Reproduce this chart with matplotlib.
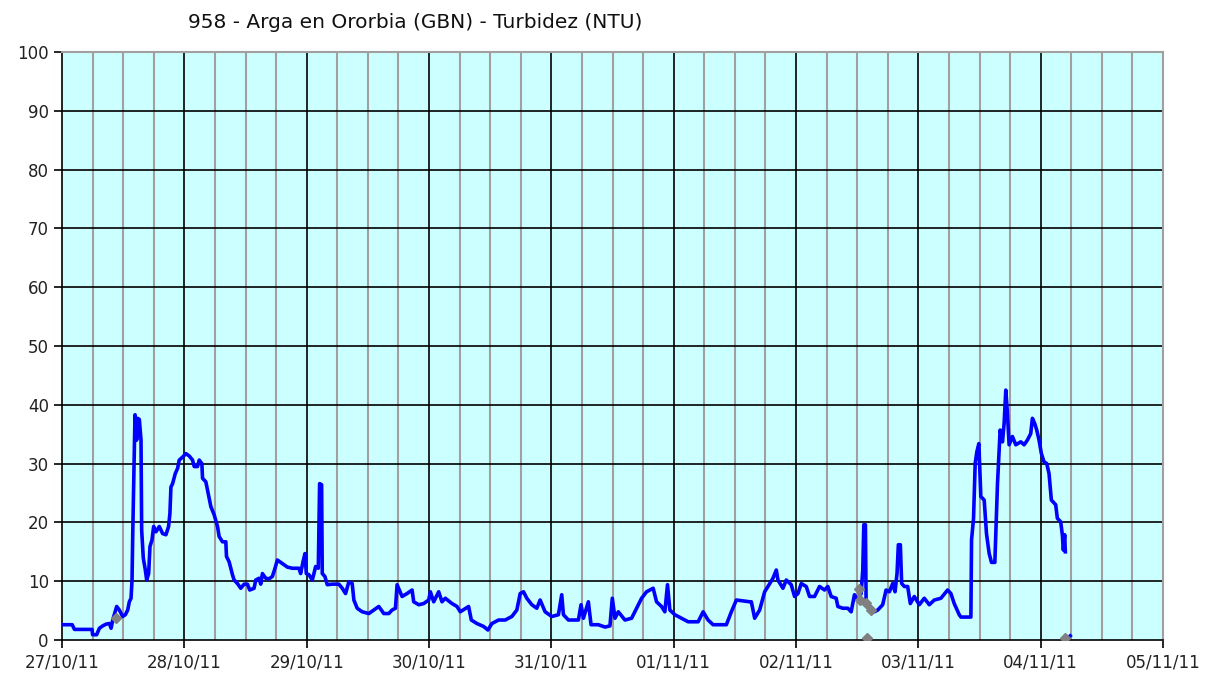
import numpy as np
import matplotlib
matplotlib.use("Agg")
from matplotlib import pyplot as plt

# horas desde 27/10/11 00:00 y turbidez (NTU)
horas = [
    0, 2.0, 2.45, 5.9, 6.0, 6.8, 7.34, 7.99, 8.65, 9.3,
    9.63, 9.95, 10.73, 11.25, 11.9, 12.43, 12.89, 13.21, 13.54, 13.74,
    13.87, 14.06, 14.32, 14.65, 14.85, 15.17, 15.5, 15.63, 15.95, 16.35,
    16.61, 17.0, 17.26, 17.65, 17.98, 18.43, 19.09, 19.74, 20.39, 20.91,
    21.17, 21.37, 21.7, 22.22, 22.68, 23.0, 23.65, 24.31, 24.96, 25.61,
    25.94, 26.59, 26.92, 27.44, 27.57, 28.22, 28.74, 29.2, 29.85, 30.51,
    30.83, 31.48, 32.14, 32.27, 32.79, 33.44, 33.77, 34.42, 35.07, 35.73,
    36.38, 36.83, 37.68, 38.01, 38.66, 38.99, 39.32, 39.97, 40.62, 41.27,
    41.79, 42.25, 42.9, 43.56, 44.21, 45.19, 46.49, 46.82, 47.28, 47.67,
    47.93, 48.45, 49.1, 49.43, 49.76, 50.28, 50.54, 50.93, 51.06, 51.58,
    52.04, 53.02, 54.32, 54.98, 55.63, 56.28, 56.93, 57.26, 57.91, 58.89,
    60.2, 61.17, 62.15, 63.13, 64.11, 64.76, 65.42, 65.74,
    66.72, 67.7, 68.68, 69.0, 69.99, 70.96, 71.94, 72.27, 72.92, 73.9,
    74.55, 75.2, 76.51, 77.49, 78.14, 79.77, 80.3, 81.4, 82.71, 83.56,
    84.34, 85.65, 86.95, 88.26, 89.23, 89.89, 90.54, 91.19, 92.17, 93.15,
    93.8, 94.78, 96.09, 97.39, 98.04, 98.37, 99.35, 101.31, 101.83, 102.29,
    103.26, 103.79, 105.22, 106.53, 107.5, 107.96, 108.49, 109.14, 110.44, 111.75,
    112.73, 113.71, 114.68, 115.98, 116.64, 117.62, 118.27, 118.79, 119.25, 120.23,
    121.54, 122.84, 124.8, 125.78, 126.75, 127.73, 130.34, 131.32, 132.3, 134.91,
    135.24, 135.89, 136.87, 137.85, 138.5, 139.48, 140.13,
    140.46, 141.44, 142.09, 143.07, 143.72, 144.38, 145.03, 146.01, 146.66, 147.64,
    148.62, 149.6, 150.25, 150.9, 151.88, 152.21, 153.18, 154.16, 154.82, 155.47,
    156.12, 156.77, 157.1, 157.3, 157.62, 157.75, 158.4, 159.38, 160.04, 161.01,
    161.67, 162.32, 162.97, 163.43, 163.82, 164.08, 164.47, 164.73, 165.26, 165.91,
    166.43, 167.21, 168.19, 169.17, 170.15, 171.13, 172.43, 173.74, 174.39, 175.04,
    176.02, 176.35, 178.31, 178.44, 178.83, 179.15, 179.48, 179.87, 180.26, 180.92,
    181.37, 181.9, 182.35, 183.01, 183.2, 183.53, 184.05, 184.51, 184.83, 185.16,
    185.48, 185.81, 186.46, 187.12, 188.1, 188.75, 189.4, 190.05, 190.38, 190.84,
    191.23, 191.68, 192.14, 192.66, 193.19, 193.64, 194.1, 194.95, 195.27, 195.93,
    196.25, 196.45, 196.71, 196.84,
    np.nan, 197.4, 197.8,
]
turbidez = [
    2.6, 2.6, 1.8, 1.8, 0.9, 0.9, 2.0, 2.4, 2.7, 2.8,
    2.0, 3.4, 5.7, 5.1, 4.0, 4.3, 5.1, 6.5, 7.1, 10.2,
    17.6, 26.0, 38.3, 34.0, 37.7, 37.5, 34.0, 18.7, 13.9, 11.9,
    10.2, 11.3, 15.9, 17.0, 19.3, 18.4, 19.3, 18.1, 17.9, 19.3,
    21.5, 26.0, 26.6, 28.3, 29.2, 30.6, 31.1, 31.7, 31.3, 30.6,
    29.5, 29.5, 30.6, 30.0, 27.5, 26.9, 24.7, 22.7, 21.3, 19.3,
    17.6, 16.7, 16.7, 14.2, 13.3, 11.1, 10.2, 9.6, 8.8, 9.5,
    9.5, 8.5, 8.8, 10.2, 10.5, 9.5, 11.3, 10.5, 10.4, 10.8,
    12.2, 13.6, 13.2, 12.8, 12.4, 12.2, 12.2, 11.3, 13.3, 14.7,
    11.3, 11.1, 10.2, 11.3, 12.5, 12.2, 26.6, 26.4, 11.3, 10.8,
    9.4, 9.5, 9.5, 8.8, 7.9, 9.9, 9.6, 6.8, 5.4, 4.8,
    4.5, 5.1, 5.7, 4.5, 4.5, 5.1, 5.4, 9.4,
    7.4, 7.9, 8.5, 6.5, 6.0, 6.2, 6.8, 8.2, 6.5, 8.2,
    6.5, 7.1, 6.2, 5.7, 4.8, 5.7, 3.4, 2.8, 2.3, 1.7,
    2.8, 3.4, 3.4, 4.0, 5.1, 7.9, 8.2, 7.1, 6.0, 5.4,
    6.8, 4.8, 4.0, 4.3, 7.7, 4.3, 3.4, 3.4, 6.0, 3.7,
    6.5, 2.6, 2.6, 2.2, 2.4, 7.1, 3.7, 4.8, 3.4, 3.7,
    5.4, 7.1, 8.2, 8.8, 6.5, 5.7, 4.8, 9.4, 5.1, 4.3,
    3.7, 3.1, 3.1, 4.8, 3.4, 2.6, 2.6, 4.8, 6.8, 6.5,
    6.5, 3.7, 5.1, 8.2, 9.1, 10.5, 11.9,
    10.2, 8.8, 10.2, 9.4, 7.4, 7.9, 9.6, 9.1, 7.4, 7.4,
    9.1, 8.5, 9.1, 7.4, 7.1, 5.7, 5.4, 5.4, 4.8, 7.7,
    6.8, 7.9, 11.9, 19.6, 19.6, 6.8, 5.7, 4.8, 5.1, 6.0,
    8.5, 8.2, 9.6, 8.2, 11.3, 16.2, 16.2, 9.6, 9.1, 9.1,
    6.2, 7.4, 6.0, 7.1, 6.0, 6.8, 7.1, 8.5, 7.9, 6.2,
    4.3, 3.9, 3.9, 17.0, 20.7, 30.0, 32.0, 33.4, 24.4, 23.8,
    18.1, 14.7, 13.2, 13.2, 18.1, 26.6, 35.7, 33.7, 36.8, 42.5,
    38.5, 33.2, 34.6, 33.2, 33.7, 33.2, 34.0, 35.1, 37.7, 36.8,
    35.7, 34.0, 31.7, 30.3, 30.0, 28.3, 23.8, 23.0, 20.7, 20.1,
    17.9, 15.3, 17.9, 15.0,
    np.nan, 0.4, 0.7,
]

# puntos grises (datos no validados)
horas_gris = [10.5, np.nan, 156.4, 156.5, 157.7, 158.7, np.nan, 157.9, np.nan, 196.8]
valor_gris = [3.7, np.nan, 8.6, 6.8, 6.3, 5.1, np.nan, 0.3, np.nan, 0.3]

dias = ['27/10/11', '28/10/11', '29/10/11', '30/10/11', '31/10/11',
        '01/11/11', '02/11/11', '03/11/11', '04/11/11', '05/11/11']

fig = plt.figure(figsize=(12.21, 6.82), dpi=100)
ax = fig.add_axes([62 / 1221, 42 / 682, 1101 / 1221, 588 / 682])
ax.set_facecolor('#ccffff')

# rejilla: gris cada 6 h, negra cada día y cada 10 NTU
for h in range(0, 24 * (len(dias) - 1), 6):
    if h % 24:
        ax.axvline(h, color='#a0a0a0', lw=1.5, zorder=1)
for h in range(24, 24 * (len(dias) - 1), 24):
    ax.axvline(h, color='black', lw=1.2, zorder=1)
for v in range(10, 100, 10):
    ax.axhline(v, color='black', lw=1.2, zorder=1)

ax.plot(horas, turbidez, color='#0000ff', lw=2.6, zorder=3)
ax.plot(horas_gris, valor_gris, color='#808080', lw=3.2, marker='D', ms=5, zorder=4)

ax.set_xlim(0, 24 * (len(dias) - 1))
ax.set_ylim(0, 100)
ax.set_xticks(range(0, 24 * len(dias), 24))
ax.set_xticklabels(dias)
ax.set_yticks(range(0, 101, 10))
ax.tick_params(axis='both', labelsize=12, length=6, width=1.2, color='black',
               labelcolor='#222222')
ax.tick_params(axis='x', pad=4)

for s in ['top', 'right']:
    ax.spines[s].set_color('#a0a0a0')
    ax.spines[s].set_linewidth(1.5)
for s in ['left', 'bottom']:
    ax.spines[s].set_color('black')
    ax.spines[s].set_linewidth(1.2)

fig.text(415 / 1221, 1 - 22 / 682, '958 - Arga en Ororbia (GBN) - Turbidez (NTU)',
         ha='center', va='center', fontsize=14.5, color='#111111')

plt.savefig('out.png', dpi=100)
